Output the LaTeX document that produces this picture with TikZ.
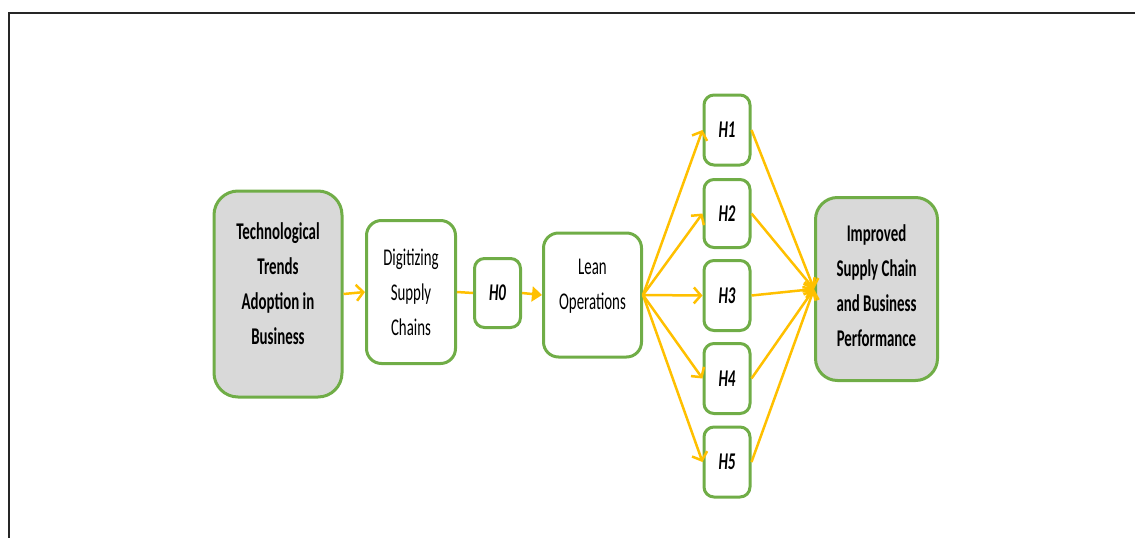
\documentclass[tikz,border=0pt]{standalone}
\usepackage{fontspec}
\setmainfont{Carlito}[FakeStretch=0.62]
\usetikzlibrary{arrows.meta}
\definecolor{boxgreen}{HTML}{70AD47}
\definecolor{arrorange}{HTML}{FFC000}
\definecolor{boxgray}{HTML}{D9D9D9}
\begin{document}
\begin{tikzpicture}[x=1pt,y=-1pt,
  box/.style={draw=boxgreen,line width=3pt,rounded corners=#1,align=center,inner sep=0pt,
    font=\fontsize{24}{35}\selectfont,text=black},
  box/.default=12pt,
  graybox/.style={box=#1,fill=boxgray,font=\fontsize{24}{35}\selectfont\bfseries},
  hbox/.style={box=10pt,minimum width=46pt,minimum height=70pt,font=\fontsize{24}{35}\selectfont\bfseries\itshape},
  conn/.style={draw=arrorange,line width=2.5pt},
  barb/.style={conn,-{Straight Barb[length=7pt,width=16pt,line width=2.5pt]}},
  tri/.style={conn,-{Triangle[length=10pt,width=15pt]}}
]
\useasboundingbox (0,0) rectangle (1135,538);
\coordinate (fa) at (8.5,538);
\coordinate (fb) at (8.5,13);
\coordinate (fc) at (1135,13);
\draw[line width=2pt,black!85] (fa) -- (fb) -- (fc);

\node[graybox=24pt,minimum width=128pt,minimum height=206pt] (tech) at (278,294)
  {Technological\\Trends\\Adoption in\\Business\\[-14pt]};
\node[box=15pt,minimum width=89pt,minimum height=143pt] (dig) at (411,292)
  {Digitizing\\Supply\\Chains};
\node[hbox,minimum height=69pt] (h0) at (497.5,293) {H0};
\node[box=15pt,minimum width=98pt,minimum height=124pt] (lean) at (592.5,295)
  {Lean\\Operations\\[-14.5pt]};
\node[hbox] (h1) at (727,130) {H1};
\node[hbox,minimum height=68pt] (h2) at (727,213.5) {H2};
\node[hbox] (h3) at (727,295.5) {H3};
\node[hbox] (h4) at (727,378.5) {H4};
\node[hbox] (h5) at (727,462) {H5};
\node[graybox=22pt,minimum width=122pt,minimum height=183pt] (imp) at (876.5,289)
  {Improved\\Supply Chain\\and Business\\Performance\\[-29pt]};

\draw[barb] (tech.east) -- (dig.west);
\draw[conn] (dig.east) -- (h0.west);
\draw[tri] (h0.east) -- (lean.west);
\foreach \h in {h1,h2,h3,h4,h5}{
  \draw[barb] (lean.east) -- (\h.west);
  \draw[barb] (\h.east) -- (imp.west);
}
\end{tikzpicture}
\end{document}
